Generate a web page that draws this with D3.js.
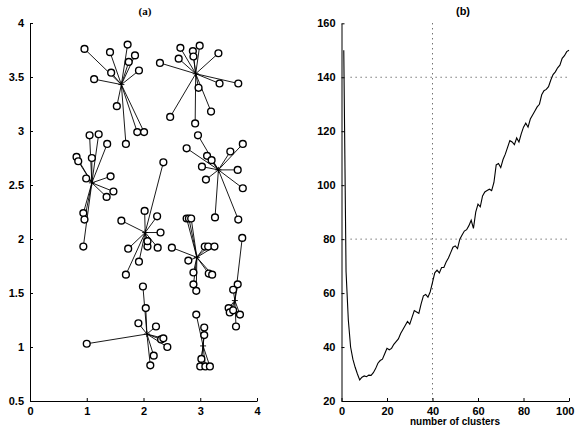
<!DOCTYPE html>
<meta charset="utf-8">
<style>
    body { margin: 0; background: #fff; }
    .tick text { font-family: "Liberation Sans", Arial, sans-serif; font-size: 11px; font-weight: bold; fill: #000; }
    .domain, .tick line { stroke: #000; }
    .link { stroke: #000; stroke-width: 0.9; fill: none; }
    .pt { fill: #fff; stroke: #000; stroke-width: 1.4; }
    .grid { stroke: #000; stroke-width: 0.8; stroke-dasharray: 1,4; }
    .curve { fill: none; stroke: #000; stroke-width: 1.1; }
</style>
<svg width="577" height="432"></svg>
<script src="https://cdn.jsdelivr.net/npm/d3@7"></script>
<script>

    // panel (a): cluster centres and the points assigned to them
    var centers = [
        [1.61, 3.43], [2.92, 3.53], [1.09, 2.52], [3.32, 2.64], [2.03, 2.06],
        [2.94, 1.83], [3.61, 1.43], [2.06, 1.12], [3.05, 1.01]
    ];

    // [x, y, cluster]
    var points = [
        [0.96, 3.76, 0], [1.13, 3.48, 0], [1.41, 3.73, 0], [1.72, 3.80, 0], [1.85, 3.70, 0], [1.74, 3.64, 0],
        [1.43, 3.54, 0], [1.92, 3.56, 0], [1.53, 3.23, 0], [1.89, 2.99, 0], [2.01, 2.99, 0], [1.69, 2.88, 0],

        [2.29, 3.63, 1], [2.65, 3.77, 1], [2.62, 3.67, 1], [2.87, 3.74, 1], [2.88, 3.69, 1], [2.99, 3.79, 1],
        [3.32, 3.72, 1], [3.34, 3.44, 1], [3.67, 3.44, 1], [2.97, 3.40, 1], [3.19, 3.18, 1], [2.47, 3.13, 1],
        [2.91, 3.07, 1],

        [1.05, 2.96, 2], [1.21, 2.97, 2], [1.36, 2.88, 2], [0.82, 2.76, 2], [0.85, 2.72, 2], [1.09, 2.75, 2],
        [0.99, 2.56, 2], [1.42, 2.58, 2], [1.47, 2.44, 2], [1.35, 2.39, 2], [0.94, 2.24, 2], [0.96, 2.18, 2],
        [0.94, 1.93, 2],

        [2.96, 2.96, 3], [2.76, 2.84, 3], [3.12, 2.77, 3], [3.20, 2.73, 3], [3.53, 2.81, 3], [3.75, 2.88, 3],
        [3.03, 2.67, 3], [3.66, 2.64, 3], [3.10, 2.55, 3], [3.75, 2.47, 3], [3.26, 2.20, 3], [3.67, 2.18, 3],

        [2.35, 2.71, 4], [2.02, 2.26, 4], [2.24, 2.21, 4], [1.61, 2.17, 4], [2.30, 2.06, 4], [1.73, 1.91, 4],
        [2.07, 1.93, 4], [2.25, 1.92, 4], [1.92, 1.79, 4], [1.69, 1.67, 4], [2.07, 1.98, 4],

        [2.76, 2.19, 5], [2.80, 2.19, 5], [2.84, 2.19, 5], [2.50, 1.92, 5], [3.08, 1.93, 5], [3.14, 1.93, 5],
        [3.25, 1.93, 5], [2.79, 1.80, 5], [2.88, 1.69, 5], [3.15, 1.68, 5], [3.21, 1.67, 5], [2.88, 1.58, 5],
        [2.93, 1.52, 5],

        [3.74, 2.01, 6], [3.66, 1.58, 6], [3.58, 1.53, 6], [3.50, 1.36, 6], [3.52, 1.32, 6], [3.58, 1.34, 6],
        [3.70, 1.30, 6], [3.63, 1.19, 6],

        [1.99, 1.56, 7], [2.04, 1.36, 7], [1.91, 1.22, 7], [2.22, 1.19, 7], [1.00, 1.03, 7], [2.31, 1.07, 7],
        [2.35, 1.08, 7], [2.42, 1.00, 7], [2.18, 0.92, 7], [2.12, 0.83, 7],

        [2.93, 1.30, 8], [3.07, 1.18, 8], [3.07, 1.11, 8], [3.02, 0.89, 8], [3.00, 0.82, 8], [3.09, 0.82, 8],
        [3.17, 0.82, 8]
    ];

    var aTicksX = [0, 1, 2, 3, 4];
    var aTicksY = [0.5, 1, 1.5, 2, 2.5, 3, 3.5, 4];

    // panel (b): criterion value against number of clusters (k = 1..100)
    var kValues = d3.range(1, 101);
    var criterion = [
        150, 68, 50, 40, 35.5, 32.5, 30, 27.8, 28.8, 29.3,
        29, 29.6, 29.5, 30.5, 32, 34, 35, 35.5, 37.5, 39.5,
        39, 39.5, 41, 42, 43, 45, 46.5, 48, 49.5, 48.5,
        51, 53.5, 53, 52.5, 56, 59, 59.5, 58.5, 60.5, 64,
        67.5, 68.5, 67.5, 69.5, 69.5, 71.5, 73, 75, 77, 77.5,
        76.5, 80, 81.5, 83, 83.5, 85, 87, 84, 90, 93,
        92, 96, 97.5, 98, 98.5, 98, 101, 107.5, 108, 106.5,
        109.5, 111.5, 114, 116.5, 116, 115, 117.5, 116, 119, 121.5,
        123, 121.5, 124.5, 126, 127.5, 129, 130, 133.5, 135, 135.5,
        136.5, 139, 141, 142, 143.5, 144.5, 147, 148, 149.5, 150
    ];
    var bTicksX = [0, 20, 40, 60, 80, 100];
    var bTicksY = [20, 40, 60, 80, 100, 120, 140, 160];
    var bGridX = [40];
    var bGridY = [80, 140];

    var svg = d3.select("svg");
    var plain = function(d) { return String(d); };

    // ---------- panel (a)
    var xa = d3.scaleLinear().domain([0, 4]).range([30, 257]),
        ya = d3.scaleLinear().domain([0.5, 4]).range([401, 23]);

    var ga = svg.append("g");

    ga.append("g")
        .attr("transform", "translate(0,401)")
        .call(d3.axisBottom(xa).tickValues(aTicksX).tickSizeInner(-3).tickSizeOuter(0).tickPadding(6)
            .tickFormat(plain));
    ga.append("g")
        .attr("transform", "translate(30,0)")
        .call(d3.axisLeft(ya).tickValues(aTicksY).tickSizeInner(-3).tickSizeOuter(0).tickPadding(6)
            .tickFormat(plain));

    ga.selectAll(".link")
        .data(points)
        .enter().append("line")
        .attr("class", "link")
        .attr("x1", function(d) { return xa(centers[d[2]][0]); })
        .attr("y1", function(d) { return ya(centers[d[2]][1]); })
        .attr("x2", function(d) { return xa(d[0]); })
        .attr("y2", function(d) { return ya(d[1]); });

    ga.selectAll(".pt")
        .data(points)
        .enter().append("circle")
        .attr("class", "pt")
        .attr("cx", function(d) { return xa(d[0]); })
        .attr("cy", function(d) { return ya(d[1]); })
        .attr("r", 3.4);

    ga.selectAll(".ctr")
        .data(centers)
        .enter().append("path")
        .attr("class", "link")
        .attr("stroke-width", 1.4)
        .attr("d", function(d) {
            var x = xa(d[0]), y = ya(d[1]);
            return "M" + (x - 3) + "," + y + "H" + (x + 3) + "M" + x + "," + (y - 3) + "V" + (y + 3);
        });

    svg.append("text")
        .attr("x", 145).attr("y", 15)
        .attr("text-anchor", "middle")
        .style("font", "bold 11px 'Liberation Serif', serif")
        .text("(a)");

    // ---------- panel (b)
    var xb = d3.scaleLinear().domain([0, 100]).range([341.5, 569]),
        yb = d3.scaleLinear().domain([20, 160]).range([401, 23.3]);

    var gb = svg.append("g");

    gb.selectAll(".gx")
        .data(bGridX)
        .enter().append("line")
        .attr("class", "grid")
        .attr("x1", function(d) { return xb(d); })
        .attr("x2", function(d) { return xb(d); })
        .attr("y1", yb(160)).attr("y2", yb(20));
    gb.selectAll(".gy")
        .data(bGridY)
        .enter().append("line")
        .attr("class", "grid")
        .attr("x1", xb(4)).attr("x2", xb(100))
        .attr("y1", function(d) { return yb(d); })
        .attr("y2", function(d) { return yb(d); });

    var bx = gb.append("g")
        .attr("transform", "translate(0,401)")
        .call(d3.axisBottom(xb).tickValues(bTicksX).tickSizeInner(-3).tickSizeOuter(0).tickPadding(6));
    // keep the last label inside the window
    bx.selectAll(".tick text").filter(function(d) { return d === 100; })
        .attr("text-anchor", "end").attr("dx", "0.45em");
    gb.append("g")
        .attr("transform", "translate(341.5,0)")
        .call(d3.axisLeft(yb).tickValues(bTicksY).tickSizeInner(-3).tickSizeOuter(0).tickPadding(6));

    var line = d3.line()
        .x(function(d, i) { return xb(kValues[i]); })
        .y(function(d) { return yb(d); });

    gb.append("path")
        .attr("class", "curve")
        .attr("d", line(criterion));

    svg.append("text")
        .attr("x", 463).attr("y", 15)
        .attr("text-anchor", "middle")
        .style("font", "bold 11px 'Liberation Sans', Arial, sans-serif")
        .text("(b)");

    svg.append("text")
        .attr("x", 455).attr("y", 425)
        .attr("text-anchor", "middle")
        .style("font", "bold 10px 'Liberation Sans', Arial, sans-serif")
        .text("number of clusters");
</script>
